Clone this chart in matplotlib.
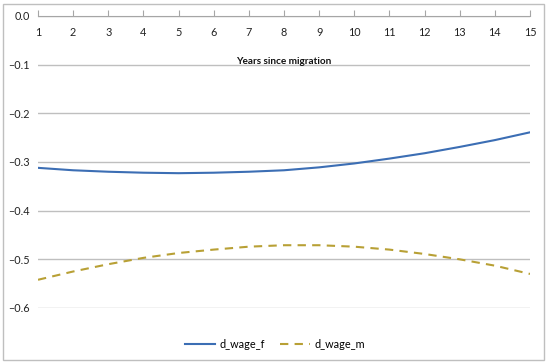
import matplotlib
matplotlib.use("Agg")
import matplotlib.pyplot as plt
from matplotlib.patches import Rectangle

years = list(range(1, 16))
d_wage_f = [-0.312, -0.317, -0.320, -0.322, -0.323, -0.322, -0.320, -0.317,
            -0.311, -0.303, -0.293, -0.282, -0.269, -0.255, -0.239]
d_wage_m = [-0.542, -0.525, -0.510, -0.497, -0.487, -0.480, -0.474, -0.471,
            -0.471, -0.474, -0.480, -0.489, -0.500, -0.513, -0.530]
yticks = [0.0, -0.1, -0.2, -0.3, -0.4, -0.5, -0.6]
ytick_labels = ["0.0", "\u22120.1", "\u22120.2", "\u22120.3", "\u22120.4", "\u22120.5", "\u22120.6"]
x_title = "Years since migration"

plt.rcParams['font.family'] = ['Lato', 'DejaVu Sans']

fig = plt.figure(figsize=(5.5, 3.64), dpi=100)
W, H = 550, 364
ax = fig.add_axes([38 / W, 1 - 308 / H, (530 - 38) / W, (308 - 16) / H])

ax.plot(years, d_wage_f, color='#3C6EB4', lw=1.5, label='d_wage_f')
ax.plot(years, d_wage_m, color='#B8A035', lw=1.5, ls=(0, (4, 3)), label='d_wage_m')

ax.set_xlim(1, 15)
ax.set_ylim(-0.6, 0.0)
ax.set_xticks(years)
ax.set_yticks(yticks)
ax.set_yticklabels(ytick_labels)
ax.grid(axis='y', color='#BFBFBF', lw=1)
ax.set_axisbelow(True)

for s in ['left', 'right', 'top']:
    ax.spines[s].set_visible(False)
ax.spines['bottom'].set_position(('data', 0))
ax.spines['bottom'].set_color('#A6A6A6')
ax.tick_params(axis='x', direction='in', length=4, color='#A6A6A6', labelsize=7.8, pad=8)
ax.tick_params(axis='y', length=0, labelsize=7.8, pad=6)
for lbl in ax.get_xticklabels() + ax.get_yticklabels():
    lbl.set_color('#222222')

ax.text(8, -0.093, x_title, ha='center', va='center', fontsize=7.2, fontweight='bold', color='#111111')

leg = fig.legend(loc='center', bbox_to_anchor=(275 / W, 1 - 344 / H), ncol=2, frameon=False,
                 fontsize=7.8, handlelength=2.8, columnspacing=1.4, handletextpad=0.4)

fig.patches.append(Rectangle((3 / W, 1 - 360 / H), (544 - 3) / W, (360 - 4) / H,
                             transform=fig.transFigure, fill=False, edgecolor='#BFBFBF', lw=1))

fig.savefig('out.png', dpi=100)
